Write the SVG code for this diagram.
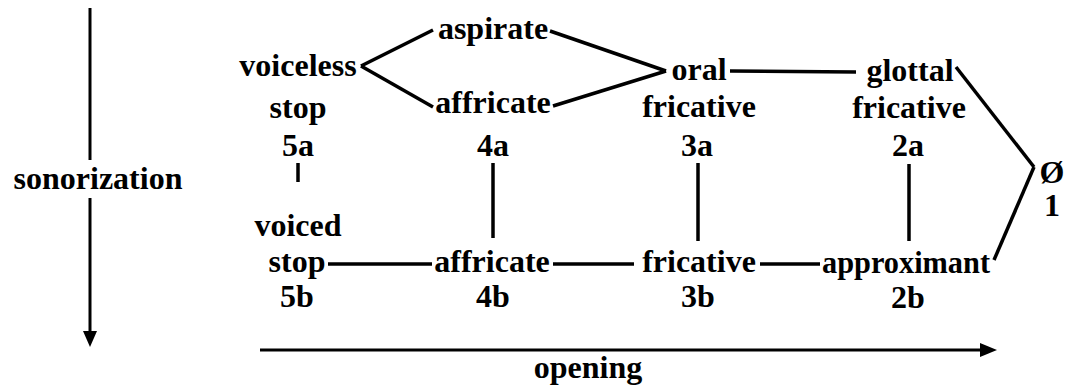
<svg xmlns="http://www.w3.org/2000/svg" width="1073" height="385" viewBox="0 0 1073 385">
<style>
text{font-family:"Liberation Serif","Times New Roman",serif;font-weight:bold;font-size:32px;fill:#000;text-anchor:middle}
.c line{stroke:#000;stroke-width:3.5;stroke-linecap:butt}
.ax line{stroke:#000;stroke-width:3}
</style>
<rect width="1073" height="385" fill="#fff"/>
<g id="axis-sonorization" class="ax">
<line x1="90" y1="8" x2="90" y2="160"/>
<line x1="90" y1="198" x2="90" y2="334"/>
<polygon points="83,331 97,331 90,347" fill="#000"/>
<text x="98" y="189">sonorization</text>
</g>
<g id="axis-opening" class="ax">
<line x1="260" y1="350" x2="982" y2="350"/>
<polygon points="980,343 980,357 997,350" fill="#000"/>
<text x="588" y="378">opening</text>
</g>
<g id="n5a"><text x="298" y="76">voiceless</text><text x="298" y="118">stop</text><text x="298" y="156">5a</text></g>
<g id="n4a-asp"><text x="493" y="39">aspirate</text></g>
<g id="n4a"><text x="493" y="113">affricate</text><text x="493" y="156">4a</text></g>
<g id="n3a"><text x="699" y="80">oral</text><text x="699" y="117">fricative</text><text x="697" y="156">3a</text></g>
<g id="n2a"><text x="910" y="81">glottal</text><text x="909" y="118">fricative</text><text x="908" y="156">2a</text></g>
<g id="n1"><text x="1052" y="183">Ø</text><text x="1052" y="216">1</text></g>
<g id="n5b"><text x="298" y="236">voiced</text><text x="297" y="272">stop</text><text x="297" y="307">5b</text></g>
<g id="n4b"><text x="492" y="272">affricate</text><text x="493" y="307">4b</text></g>
<g id="n3b"><text x="699" y="272">fricative</text><text x="698" y="307">3b</text></g>
<g id="n2b"><text x="906" y="273" textLength="168" lengthAdjust="spacingAndGlyphs">approximant</text><text x="908" y="308">2b</text></g>
<g id="connectors" class="c">
<line x1="361" y1="66" x2="433" y2="30"/>
<line x1="361" y1="66" x2="433" y2="107"/>
<line x1="550" y1="31" x2="666" y2="71"/>
<line x1="553" y1="106" x2="666" y2="71"/>
<line x1="730" y1="71" x2="856" y2="72"/>
<line x1="956" y1="67" x2="1034" y2="167"/>
<line x1="1034" y1="167" x2="994" y2="260"/>
<line x1="298" y1="163" x2="298" y2="182"/>
<line x1="493" y1="163" x2="493" y2="238"/>
<line x1="698" y1="163" x2="698" y2="241"/>
<line x1="909" y1="164" x2="909" y2="241"/>
<line x1="328" y1="264" x2="432" y2="264"/>
<line x1="553" y1="264" x2="634" y2="264"/>
<line x1="760" y1="264" x2="820" y2="264"/>
</g>
</svg>
